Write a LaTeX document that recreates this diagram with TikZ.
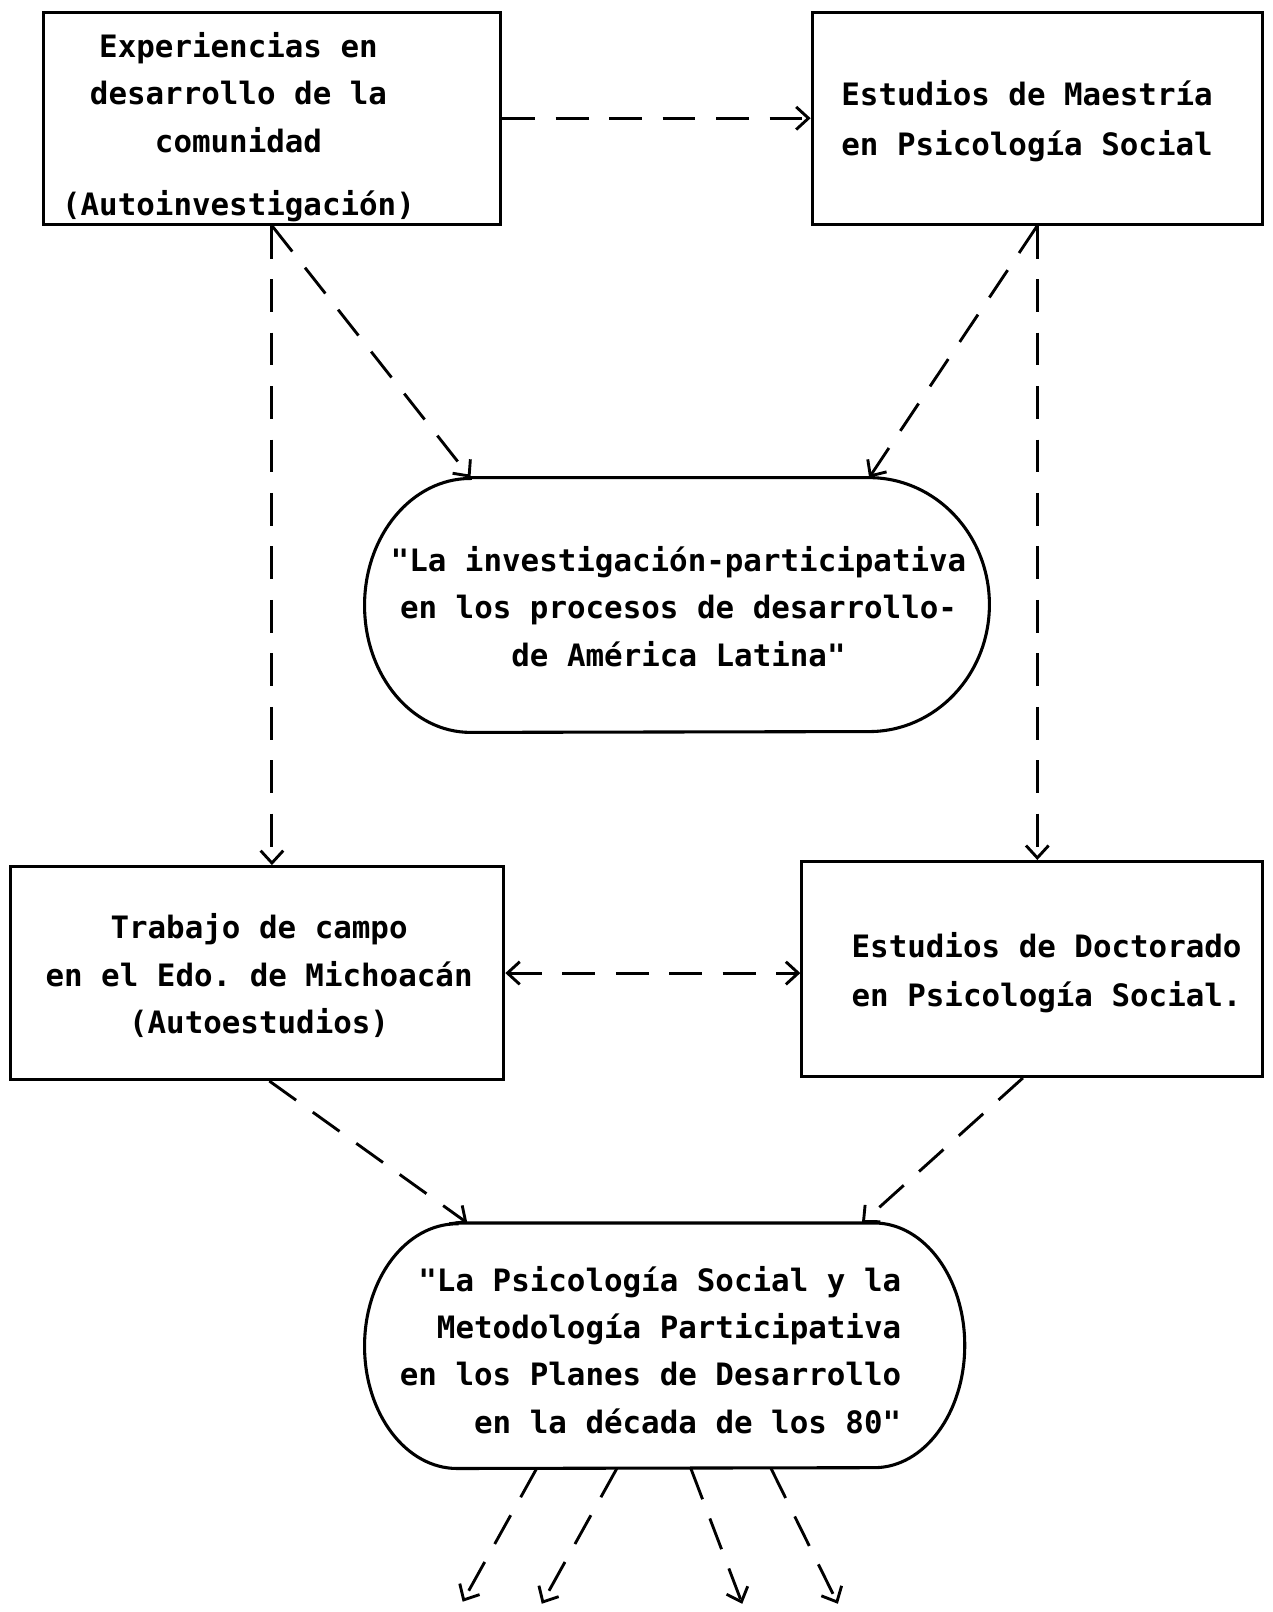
\documentclass[tikz,border=0pt]{standalone}
\usepackage{fontspec}
\newfontfamily\twfont{DejaVu Sans Mono}
\usetikzlibrary{arrows.meta,calc}
\begin{document}
\frenchspacing
\begin{tikzpicture}[x=0.5pt,y=0.5pt,
  box/.style={draw, line width=1.5pt, inner sep=0pt},
  blank/.style={draw=none, inner sep=0pt},
  txt/.style={font=\twfont\bfseries\fontsize{15}{23}\selectfont, inner sep=0pt},
  wtxt/.style={font=\twfont\bfseries\fontsize{15}{24}\selectfont, inner sep=0pt},
  dsh/.style={line width=1.4pt, dash pattern=on 16pt off 10pt, -{Straight Barb[length=6pt,width=11pt]}},
  stad/.style={line width=1.5pt}]
\useasboundingbox (0,0) rectangle (1238,-1568);

% boxes
\node[box, minimum width=222.5pt, minimum height=103pt] (b1) at (264.5,-115) {};
\node[box, minimum width=219pt, minimum height=103pt] (b2) at (1009,-115) {};
\node[box, minimum width=240pt, minimum height=103.5pt] (b3) at (250,-946.5) {};
\node[box, minimum width=224pt, minimum height=104.5pt] (b4) at (1004,-942.5) {};

% stadium shapes
\node[blank, minimum width=303.5pt, minimum height=123.5pt] (s1) at (658.5,-588.5) {};
\draw[stad] ([xshift=51.5pt]s1.north west) -- ([xshift=-58.5pt]s1.north east)
  arc[start angle=90,end angle=-90,x radius=58.5pt,y radius=61.75pt]
  -- ([xshift=51.5pt]s1.south west)
  arc[start angle=270,end angle=90,x radius=51.5pt,y radius=61.75pt] -- cycle;
\node[blank, minimum width=291.5pt, minimum height=119pt] (s2) at (646.5,-1309) {};
\draw[stad] ([xshift=45pt]s2.north west) -- ([xshift=-44pt]s2.north east)
  arc[start angle=90,end angle=-90,x radius=44pt,y radius=59.5pt]
  -- ([xshift=45pt]s2.south west)
  arc[start angle=270,end angle=90,x radius=45pt,y radius=59.5pt] -- cycle;

% texts
\node[txt, align=center] (t1) at (232,-124) {Experiencias en\\desarrollo de la\\comunidad\\[8pt](Autoinvestigación)};
\node[wtxt, align=left, anchor=west] (t2) at (818,-118) {Estudios de Maestría\\en Psicología Social};
\node[txt, align=center] (t3) at (660,-590) {"La investigación-participativa\\en los procesos de desarrollo-\\de América Latina"};
\node[txt, align=center] (t4) at (252,-949) {Trabajo de campo\\en el Edo. de Michoacán\\(Autoestudios)};
\node[wtxt, align=left, anchor=west] (t5) at (828,-946) {Estudios de Doctorado\\en Psicología Social.};
\node[txt, align=right, anchor=east] (t6) at (877,-1313) {"La Psicología Social y la\\Metodología Participativa\\en los Planes de Desarrollo\\en la década de los 80"};

% connectors
\draw[dsh] (b1.east) -- (b1.east -| b2.west);
\draw[dsh] (b1.south) -- (b1.south |- b3.north);
\draw[dsh] (b1.south) -- ([xshift=51.5pt]s1.north west);
\draw[dsh] (b2.south) -- ([xshift=-58.5pt]s1.north east);
\draw[dsh] (b2.south) -- (b2.south |- b4.north);
\draw[dsh, {Straight Barb[length=6pt,width=11pt]}-{Straight Barb[length=6pt,width=11pt]}] (b3.east) -- (b3.east -| b4.west);
\draw[dsh] ([xshift=6pt]b3.south) -- ([xshift=50pt]s2.north west);
\draw[dsh] ([xshift=-4.5pt]b4.south) -- ([xshift=-50pt]s2.north east);

\coordinate (o1) at (450,-1558);
\coordinate (o2) at (527,-1560);
\coordinate (o3) at (722,-1560);
\coordinate (o4) at (815,-1560);
\draw[dsh] ([xshift=-62.25pt]s2.south) -- (o1);
\draw[dsh] ([xshift=-23.25pt]s2.south) -- (o2);
\draw[dsh] ([xshift=12.75pt]s2.south) -- (o3);
\draw[dsh] ([xshift=51.75pt]s2.south) -- (o4);
\end{tikzpicture}
\end{document}
